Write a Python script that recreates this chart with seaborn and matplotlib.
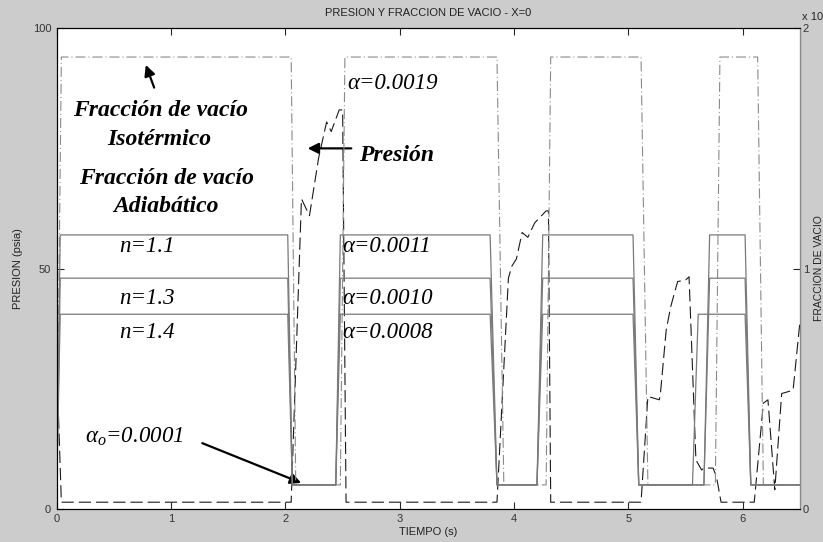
"""
plot.py
=======
Presión y fracción de vacío en X=0 (figura estilo MATLAB) con seaborn.
Eje izquierdo: presión (psia). Eje derecho: fracción de vacío (x 10^-3).
"""

import matplotlib
matplotlib.use("Agg")
import matplotlib.pyplot as plt
import seaborn as sns

# ── Data ──────────────────────────────────────────────────────────────────────

# presión (psia) vs tiempo (s)
t_pres  = [0.00, 0.04, 2.05, 2.14, 2.21, 2.29, 2.36, 2.40, 2.47, 2.50, 2.53,
           3.85, 3.95, 3.98, 4.02, 4.07, 4.12, 4.18, 4.28, 4.30, 4.32,
           5.11, 5.17, 5.27, 5.28, 5.33, 5.37, 5.43, 5.50, 5.53, 5.59, 5.64,
           5.66, 5.74, 5.77, 5.81,
           6.10, 6.18, 6.22, 6.28, 6.34, 6.44, 6.50]
presion = [30.0, 1.4, 1.4, 64.5, 61.0, 73.0, 80.5, 78.5, 83.0, 83.0, 1.4,
           1.4, 48.0, 50.5, 52.0, 57.5, 56.5, 59.5, 62.0, 62.0, 1.4,
           1.4, 23.4, 22.7, 24.1, 37.2, 42.1, 47.3, 47.6, 48.3, 10.2, 8.1,
           8.5, 8.5, 6.7, 1.4,
           1.4, 22.0, 22.7, 4.0, 24.0, 24.7, 39.0]

# fracción de vacío isotérmica
t_iso    = [0.00, 0.04, 2.05, 2.09, 2.48, 2.52, 3.85, 3.91, 4.28, 4.32,
            5.11, 5.17, 5.76, 5.80, 6.13, 6.18, 6.50]
alfa_iso = [0.0001, 0.00188, 0.00188, 0.0001, 0.0001, 0.00188, 0.00188, 0.0001,
            0.0001, 0.00188, 0.00188, 0.0001, 0.0001, 0.00188, 0.00188, 0.0001,
            0.0001]

# fracción de vacío adiabática (n = 1.1, 1.3, 1.4)
t_adi     = [0.00, 0.03, 2.02, 2.06, 2.44, 2.48, 3.79, 3.85, 4.20, 4.25,
             5.04, 5.09, 5.66, 5.71, 6.02, 6.07, 6.50]
t_adi_n14 = [0.00, 0.03, 2.02, 2.06, 2.44, 2.48, 3.79, 3.85, 4.20, 4.25,
             5.04, 5.09, 5.56, 5.61, 6.02, 6.07, 6.50]
alfa_n11  = [0.0001, 0.00114, 0.00114, 0.0001, 0.0001, 0.00114, 0.00114, 0.0001,
             0.0001, 0.00114, 0.00114, 0.0001, 0.0001, 0.00114, 0.00114, 0.0001,
             0.0001]
alfa_n13  = [0.0001, 0.00096, 0.00096, 0.0001, 0.0001, 0.00096, 0.00096, 0.0001,
             0.0001, 0.00096, 0.00096, 0.0001, 0.0001, 0.00096, 0.00096, 0.0001,
             0.0001]
alfa_n14  = [0.0001, 0.00081, 0.00081, 0.0001, 0.0001, 0.00081, 0.00081, 0.0001,
             0.0001, 0.00081, 0.00081, 0.0001, 0.0001, 0.00081, 0.00081, 0.0001,
             0.0001]

x_ticks       = [0, 1, 2, 3, 4, 5, 6]
p_ticks       = [0, 50, 100]
alfa_ticks    = [0, 0.001, 0.002]
alfa_ticklbl  = ["0", "1", "2"]

# ── Style ─────────────────────────────────────────────────────────────────────

sns.set_style("ticks")
plt.rcParams["font.family"] = ["Liberation Sans", "DejaVu Sans"]
plt.rcParams["text.color"] = "black"
plt.rcParams["axes.labelcolor"] = "#222222"
plt.rcParams["mathtext.fontset"] = "custom"
plt.rcParams["mathtext.rm"] = "Liberation Serif"
plt.rcParams["mathtext.it"] = "Liberation Serif:italic"

GRIS_FONDO = "#cccccc"
SERIF      = ["Liberation Serif", "DejaVu Serif"]
DASHED     = (0, (11, 4.5))
DASHDOT    = (0, (9, 2.7, 0.9, 2.7))


def line(ax, x, y, **kw):
    sns.lineplot(x=x, y=y, ax=ax, estimator=None, sort=False, legend=False, **kw)


# ── Figure ────────────────────────────────────────────────────────────────────

fig = plt.figure(figsize=(8.23, 5.42), dpi=100, facecolor=GRIS_FONDO)
ax = fig.add_axes([0.069, 0.061, 0.903, 0.887])
ax.set_facecolor("white")
ax2 = ax.twinx()

line(ax, t_pres, presion, color="#1a1a1a", lw=0.8, linestyle=DASHED)

line(ax2, t_iso, alfa_iso, color="#8a8a8a", lw=0.8, linestyle=DASHDOT)
for tt, aa in [(t_adi, alfa_n11), (t_adi, alfa_n13), (t_adi_n14, alfa_n14)]:
    line(ax2, tt, aa, color="#7a7a7a", lw=0.9)

ax.set_xlim(0, 6.5)
ax.set_ylim(0, 100)
ax2.set_ylim(0, 0.002)
ax.set_xticks(x_ticks)
ax.set_yticks(p_ticks)
ax2.set_yticks(alfa_ticks)
ax2.set_yticklabels(alfa_ticklbl)

for a in (ax, ax2):
    a.tick_params(direction="in", length=5, width=0.8, labelsize=8,
                  labelcolor="#333333", pad=4)
    for s in a.spines.values():
        s.set_linewidth(0.8)
        s.set_color("black")
ax.tick_params(axis="x", top=True)
ax2.tick_params(axis="y", pad=2)
ax2.spines["right"].set_color("#888888")

ax.set_title("PRESION Y FRACCION DE VACIO - X=0", fontsize=8, pad=9,
             color="#222222")
ax.set_xlabel("TIEMPO (s)", fontsize=8, labelpad=2)
ax.set_ylabel("PRESION (psia)", fontsize=8, labelpad=7)
ax2.set_ylabel("FRACCION DE VACIO", fontsize=7.5)
ax2.yaxis.set_label_coords(1.0185, 0.5)
fig.text(0.975, 0.968, "x 10", fontsize=8, ha="left", va="center",
         color="#222222")

# ── Anotaciones ───────────────────────────────────────────────────────────────

bold = dict(family=SERIF, fontsize=17, fontweight="bold", fontstyle="italic",
            ha="center", va="center")
ax.text(0.907, 82.8, "Fracción de vacío", **bold)
ax.text(0.895, 76.9, "Isotérmico", **bold)
ax.text(0.960, 68.7, "Fracción de vacío", **bold)
ax.text(0.953, 63.0, "Adiabático", **bold)
ax.text(2.64, 73.6, "Presión", **{**bold, "ha": "left"})

ital = dict(family=SERIF, fontsize=16.5, fontstyle="italic", va="center")
ax.text(0.79, 54.5, "n=1.1", ha="center", **ital)
ax.text(0.79, 43.7, "n=1.3", ha="center", **ital)
ax.text(0.79, 36.6, "n=1.4", ha="center", **ital)
ax.text(2.54, 88.4, "α=0.0019", ha="left", **ital)
ax.text(2.495, 54.5, "α=0.0011", ha="left", **ital)
ax.text(2.495, 43.7, "α=0.0010", ha="left", **ital)
ax.text(2.495, 36.6, "α=0.0008", ha="left", **ital)
ax.text(0.245, 15.0, r"$\alpha_o$=0.0001", ha="left", **ital)

arrow = dict(arrowstyle="-|>", color="black", lw=1.6, mutation_scale=16)
ax.annotate("", xy=(0.77, 92.9), xytext=(0.86, 87.1), arrowprops=arrow)
ax.annotate("", xy=(2.17, 75.0), xytext=(2.60, 75.0), arrowprops=arrow)
ax.annotate("", xy=(2.16, 5.2), xytext=(1.25, 13.9), arrowprops=arrow)

fig.savefig("out.png", dpi=100, facecolor=GRIS_FONDO)
